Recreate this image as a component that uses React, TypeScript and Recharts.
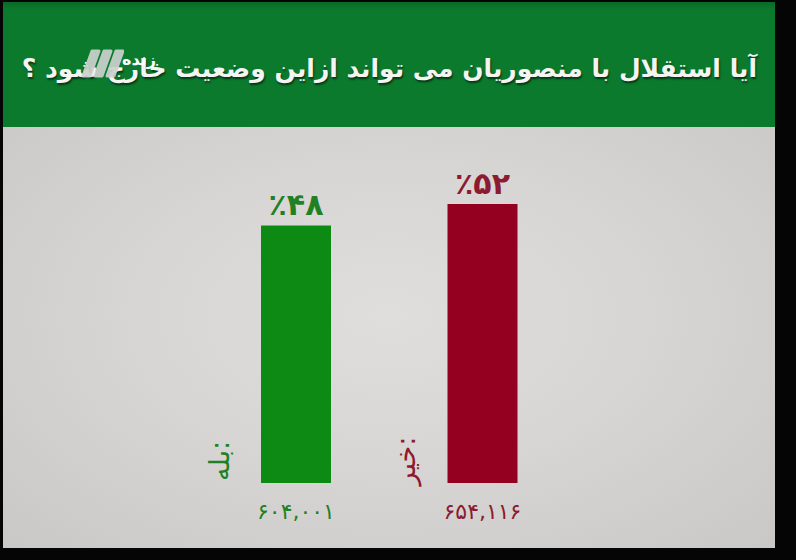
import React from "react";
import { BarChart, Bar, XAxis, YAxis, LabelList, Cell } from "recharts";

const categories = ["بله:", "خیر:"];
const percentValues = [48, 52];
const percentLabels = ["٪۴۸", "٪۵۲"];
const voteCounts = ["۶۰۴,۰۰۱", "۶۵۴,۱۱۶"];
const barColors = ["#0c8a14", "#940020"];
const textColors = ["#1f8024", "#8c1a30"];
const title = "آیا استقلال با منصوریان می تواند ازاین وضعیت خارج شود ؟";

const data = categories.map((c, i) => ({
  name: c,
  value: percentValues[i],
  pct: percentLabels[i],
  count: voteCounts[i],
}));

const FONT = "'DejaVu Sans', sans-serif";

const PctLabel = (props: any) => {
  const { x, y, width, index } = props;
  return (
    <text
      x={x + width / 2}
      y={y - 10}
      textAnchor="middle"
      fill={textColors[index]}
      fontFamily={FONT}
      fontWeight="bold"
      fontSize={30}
    >
      {percentLabels[index]}
    </text>
  );
};

const SideLabel = (props: any) => {
  const { x, y, height, index } = props;
  const cx = x - 42;
  const cy = y + height - 22;
  return (
    <text
      x={cx}
      y={cy}
      textAnchor="middle"
      dominantBaseline="central"
      transform={`rotate(-90 ${cx} ${cy})`}
      fill={textColors[index]}
      fontFamily={FONT}
      fontSize={27}
    >
      {categories[index]}
    </text>
  );
};

const CountLabel = (props: any) => {
  const { x, y, width, height, index } = props;
  return (
    <text
      x={x + width / 2}
      y={y + height + 28}
      textAnchor="middle"
      dominantBaseline="central"
      fill={textColors[index]}
      fontFamily={FONT}
      fontSize={22}
    >
      {voteCounts[index]}
    </text>
  );
};

export default function App() {
  return (
    <div
      style={{
        position: "absolute",
        left: 0,
        top: 0,
        width: 796,
        height: 560,
        background: "#050505",
        overflow: "hidden",
      }}
    >
      <div
        style={{
          position: "absolute",
          left: 3,
          top: 2,
          width: 772,
          height: 125,
          background: "linear-gradient(#086a26 0%, #0b7a2d 6%, #0b7a2d 100%)",
        }}
      />
      <div
        style={{
          position: "absolute",
          left: 3,
          top: 127,
          width: 772,
          height: 421,
          background:
            "radial-gradient(ellipse at 50% 45%, #e0dedc 0%, #d8d6d4 45%, #cac8c6 100%)",
        }}
      />
      <div
        dir="rtl"
        style={{
          position: "absolute",
          right: 39,
          top: 54,
          fontFamily: FONT,
          fontWeight: "bold",
          fontSize: 25,
          color: "#f4f4f2",
          textShadow: "1px 2px 2px rgba(0,0,0,0.55)",
          whiteSpace: "nowrap",
        }}
      >
        {title}
      </div>
      <svg
        width={44}
        height={32}
        style={{ position: "absolute", left: 80, top: 48 }}
      >
        {[0, 12, 24].map((dx) => (
          <polygon
            key={dx}
            points={`${12 + dx},3 ${19 + dx},3 ${10 + dx},28 ${3 + dx},28`}
            fill="#cdd1ce"
            opacity={0.92}
            strokeLinejoin="round"
            stroke="#cdd1ce"
            strokeWidth={3}
          />
        ))}
      </svg>
      <div
        dir="rtl"
        style={{
          position: "absolute",
          left: 122,
          top: 50,
          fontFamily: FONT,
          fontWeight: "bold",
          fontSize: 16,
          color: "#ffffff",
          whiteSpace: "nowrap",
        }}
      >
        زنده
      </div>
      <div style={{ position: "absolute", left: 0, top: 0 }}>
        <BarChart
          width={796}
          height={560}
          data={data}
          margin={{ top: 161, right: 220, bottom: 77, left: 203 }}
        >
          <XAxis dataKey="name" hide />
          <YAxis hide domain={[0, 60]} />
          <Bar dataKey="value" barSize={70} isAnimationActive={false}>
            {data.map((d, i) => (
              <Cell key={d.name} fill={barColors[i]} />
            ))}
            <LabelList dataKey="pct" content={PctLabel} />
            <LabelList dataKey="name" content={SideLabel} />
            <LabelList dataKey="count" content={CountLabel} />
          </Bar>
        </BarChart>
      </div>
    </div>
  );
}
